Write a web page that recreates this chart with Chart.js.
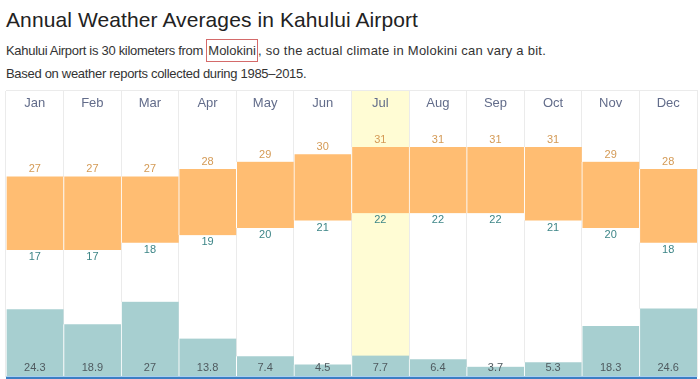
<!DOCTYPE html>
<html>
<head>
<meta charset="utf-8">
<script src="https://cdn.jsdelivr.net/npm/chart.js@4.4.1/dist/chart.umd.min.js"></script>
<style>
  html, body { margin:0; padding:0; background:#fff; }
  body { width:700px; height:379px; overflow:hidden; position:relative; font-family:'Liberation Sans', Arial, sans-serif; }
  .t { position:absolute; left:6px; white-space:nowrap; line-height:1; }
  #title { top:9px; font-size:21px; color:#222; letter-spacing:0.1px; }
  #l2 { top:44px; font-size:13px; color:#333; }
  #l3 { top:67px; font-size:13px; color:#333; letter-spacing:-0.3px; }
  .a { letter-spacing:-0.3px; }
  .b { letter-spacing:0.25px; }
  .box { border:1px solid #d46a6a; padding:3px 1px 3px 1px; }
  canvas { position:absolute; left:0; top:0; }
</style>
</head>
<body>
<div class="t" id="title">Annual Weather Averages in Kahului Airport</div>
<div class="t" id="l2"><span class="a">Kahului Airport is 30 kilometers from </span><span class="box">Molokini</span><span class="b">, so the actual climate in Molokini can vary a bit.</span></div>
<div class="t" id="l3">Based on weather reports collected during 1985–2015.</div>
<canvas id="c" width="700" height="379"></canvas>
<script>
const months = ['Jan','Feb','Mar','Apr','May','Jun','Jul','Aug','Sep','Oct','Nov','Dec'];
const highTemps = [27,27,27,28,29,30,31,31,31,31,29,28];
const lowTemps  = [17,17,18,19,20,21,22,22,22,21,20,18];
const precip    = [24.3,18.9,27,13.8,7.4,4.5,7.7,6.4,3.7,5.3,18.3,24.6];
const highlightIndex = 6;

const tempRanges = months.map((m, i) => [lowTemps[i], highTemps[i]]);

const highlightPlugin = {
  id: 'highlight',
  beforeDraw(chart) {
    const ctx = chart.ctx, x = chart.scales.x, a = chart.chartArea;
    const w = x.getPixelForValue(1) - x.getPixelForValue(0);
    const cx = x.getPixelForValue(highlightIndex);
    ctx.save();
    ctx.fillStyle = '#fffcd4';
    ctx.fillRect(cx - w / 2, a.top, w, a.bottom - a.top);
    ctx.restore();
  }
};

const labelPlugin = {
  id: 'labels',
  afterDatasetsDraw(chart) {
    const ctx = chart.ctx, x = chart.scales.x, a = chart.chartArea;
    ctx.save();
    ctx.textAlign = 'center';
    ctx.textBaseline = 'middle';
    ctx.font = "13px 'Liberation Sans', Arial, sans-serif";
    ctx.fillStyle = '#626c8a';
    months.forEach((m, i) => ctx.fillText(m, x.getPixelForValue(i), a.top + 13));
    ctx.font = "11px 'Liberation Sans', Arial, sans-serif";
    chart.getDatasetMeta(0).data.forEach((el, i) => {
      const top = Math.min(el.y, el.base), bot = Math.max(el.y, el.base);
      ctx.fillStyle = '#d49a55';
      ctx.fillText(String(highTemps[i]), el.x, top - 7);
      ctx.fillStyle = '#3d8587';
      ctx.fillText(String(lowTemps[i]), el.x, bot + 7);
    });
    ctx.fillStyle = '#4f5a5f';
    chart.getDatasetMeta(1).data.forEach((el, i) => {
      ctx.fillText(String(precip[i]), el.x, a.bottom - 9.5);
    });
    ctx.restore();
  },
  afterDraw(chart) {
    const ctx = chart.ctx, a = chart.chartArea;
    ctx.save();
    ctx.fillStyle = '#a9d0ef';
    ctx.fillRect(a.left, a.bottom - 1, a.right - a.left, 1);
    ctx.fillStyle = '#3c7fc3';
    ctx.fillRect(a.left, a.bottom, a.right - a.left, 2);
    ctx.restore();
  }
};

new Chart(document.getElementById('c'), {
  type: 'bar',
  data: {
    labels: months,
    datasets: [
      {
        label: 'Temperature',
        data: tempRanges,
        yAxisID: 'yT',
        backgroundColor: '#ffbd72',
        borderColor: '#ffffff',
        borderWidth: {left: 1, right: 0, top: 0, bottom: 0},
        borderSkipped: false,
        categoryPercentage: 1,
        barPercentage: 1,
        grouped: false
      },
      {
        label: 'Precipitation',
        data: precip,
        yAxisID: 'yP',
        backgroundColor: '#a7cfd0',
        borderColor: '#ffffff',
        borderWidth: {left: 1, right: 0, top: 0, bottom: 0},
        borderSkipped: false,
        categoryPercentage: 1,
        barPercentage: 1,
        grouped: false
      }
    ]
  },
  options: {
    responsive: false,
    animation: false,
    devicePixelRatio: 1,
    layout: { padding: { left: 6, top: 90, right: 3, bottom: 2 } },
    plugins: { legend: { display: false }, tooltip: { enabled: false } },
    scales: {
      x: {
        position: 'top',
        offset: true,
        grid: { offset: true, color: '#ebebeb', drawTicks: false },
        border: { color: '#ebebeb' },
        ticks: { display: false }
      },
      yT: { display: false, min: -0.26, max: 38.74 },
      yP: { display: false, min: 0, max: 102.9 }
    }
  },
  plugins: [highlightPlugin, labelPlugin]
});
</script>
</body>
</html>
